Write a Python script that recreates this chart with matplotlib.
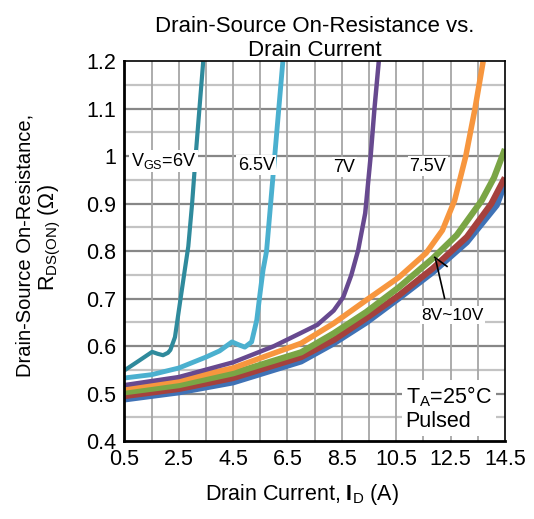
import matplotlib
matplotlib.use("Agg")
import matplotlib.pyplot as plt
import numpy as np

plt.rcParams['font.family'] = ['Liberation Sans', 'DejaVu Sans']
plt.rcParams['mathtext.fontset'] = 'custom'
plt.rcParams['mathtext.rm'] = 'Liberation Sans'
plt.rcParams['mathtext.bf'] = 'Liberation Sans:bold'

# Curves (drain current A, on-resistance ohm)
id_6v = [0.5, 1.0, 1.52, 1.72, 1.92, 2.1, 2.19, 2.36, 2.54, 2.72, 2.85, 2.99, 3.12, 3.26, 3.4]
r_6v = [0.549, 0.568, 0.588, 0.584, 0.581, 0.586, 0.592, 0.619, 0.69, 0.76, 0.81, 0.9, 1.0, 1.1, 1.2]

id_65v = [0.5, 1.5, 2.5, 3.5, 4.0, 4.46, 4.7, 4.93, 5.18, 5.37, 5.49, 5.6, 5.73, 5.88, 6.03, 6.18, 6.33]
r_65v = [0.533, 0.54, 0.554, 0.577, 0.59, 0.609, 0.603, 0.598, 0.609, 0.655, 0.711, 0.76, 0.8, 0.9, 1.0, 1.1, 1.2]

id_7v = [0.5, 2.5, 4.5, 6.0, 7.0, 7.6, 7.88, 8.2, 8.55, 8.85, 9.1, 9.36, 9.56, 9.7, 9.86]
r_7v = [0.518, 0.535, 0.566, 0.6, 0.628, 0.645, 0.659, 0.675, 0.703, 0.75, 0.802, 0.88, 1.0, 1.1, 1.2]

id_75v = [0.5, 2.5, 4.5, 7.0, 8.2, 9.4, 10.6, 11.6, 12.2, 12.65, 13.06, 13.4, 13.7]
r_75v = [0.512, 0.528, 0.554, 0.606, 0.648, 0.697, 0.745, 0.796, 0.844, 0.907, 1.0, 1.1, 1.2]

id_8v = [0.5, 2.5, 4.5, 7.0, 8.2, 9.4, 10.6, 11.85, 12.73, 13.65, 14.1, 14.5]
r_8v = [0.503, 0.518, 0.543, 0.587, 0.627, 0.672, 0.724, 0.785, 0.834, 0.907, 0.955, 1.015]

id_9v = [0.5, 2.5, 4.5, 7.0, 8.2, 9.4, 10.6, 11.85, 13.1, 14.0, 14.5]
r_9v = [0.495, 0.51, 0.533, 0.577, 0.613, 0.659, 0.707, 0.764, 0.83, 0.9, 0.955]

id_10v = [0.5, 2.5, 4.5, 7.0, 8.2, 9.4, 10.6, 11.85, 13.1, 14.2, 14.5]
r_10v = [0.488, 0.503, 0.524, 0.568, 0.606, 0.65, 0.701, 0.756, 0.819, 0.897, 0.943]

fig = plt.figure(figsize=(5.34, 5.19), dpi=100)
ax = fig.add_axes([0.233, 0.150, 0.7125, 0.732])

# grid: minor every 0.05 ohm, major every 0.1 ohm, verticals every 1 A
for y in np.arange(0.45, 1.2, 0.1):
    ax.axhline(y, color='#c3c3c3', lw=1.6, zorder=0)
for y in np.arange(0.5, 1.2, 0.1):
    ax.axhline(y, color='#878787', lw=1.6, zorder=0)
for x in np.arange(1.5, 14.5, 1.0):
    ax.axvline(x, color='#a6a6a6', lw=1.3, zorder=0)

ax.plot(id_10v, r_10v, color='#3f72b6', lw=4.5, solid_capstyle='butt')
ax.plot(id_9v, r_9v, color='#a5413d', lw=4.5, solid_capstyle='butt')
ax.plot(id_8v, r_8v, color='#7aa545', lw=4.5, solid_capstyle='butt')
ax.plot(id_75v, r_75v, color='#f7963e', lw=4.0, solid_capstyle='butt')
ax.plot(id_7v, r_7v, color='#67498f', lw=3.2, solid_capstyle='butt')
ax.plot(id_65v, r_65v, color='#4bb0cf', lw=3.5, solid_capstyle='butt')
ax.plot(id_6v, r_6v, color='#2f8a9c', lw=3.0, solid_capstyle='butt')

ax.set_xlim(0.5, 14.5)
ax.set_ylim(0.4, 1.2)
ax.set_xticks(np.arange(0.5, 14.6, 2))
ax.set_xticklabels(['0.5', '2.5', '4.5', '6.5', '8.5', '10.5', '12.5', '14.5'])
ax.set_yticks(np.arange(0.4, 1.21, 0.1))
ax.set_yticklabels(['0.4', '0.5', '0.6', '0.7', '0.8', '0.9', '1', '1.1', '1.2'])
ax.tick_params(length=0, labelsize=15.5, pad=6)

for s in ['left', 'bottom']:
    ax.spines[s].set_linewidth(2)
for s in ['top', 'right']:
    ax.spines[s].set_linewidth(1.2)

box = dict(facecolor='white', edgecolor='none', pad=1)
ax.text(0.74, 0.99, r'V$_{\mathrm{GS}}$=6V', fontsize=13, ha='left', va='center', bbox=box)
ax.text(5.35, 0.981, '6.5V', fontsize=13, ha='center', va='center', bbox=box)
ax.text(8.6, 0.977, '7V', fontsize=13, ha='center', va='center', bbox=box)
ax.text(11.66, 0.979, '7.5V', fontsize=13, ha='center', va='center', bbox=box)
ax.plot([12.28, 11.95], [0.701, 0.783], color='black', lw=1.2)
ax.plot([11.92, 12.37], [0.787, 0.768], color='black', lw=1.2)
ax.text(12.58, 0.665, '8V~10V', fontsize=12.5, ha='center', va='center', bbox=box)
ax.text(10.85, 0.469, 'T$_{\\mathrm{A}}$=25°C\nPulsed', fontsize=15.5, ha='left', va='center',
        linespacing=1.1, bbox=dict(facecolor='white', edgecolor='none', pad=3))

ax.set_title('Drain-Source On-Resistance vs.\nDrain Current', fontsize=16, pad=1,
             linespacing=1.2)
fig.text(0.5655, 0.048, r'Drain Current, $\mathbf{I}_{\mathrm{D}}$ (A)', fontsize=15.5,
         ha='center', va='center')
fig.text(0.047, 0.528, 'Drain-Source On-Resistance,', fontsize=14.5, rotation=90,
         ha='center', va='center')
fig.text(0.094, 0.543, 'R$_{\\mathrm{DS(ON)}}$ ($\\Omega$)', fontsize=15.5, rotation=90,
         ha='center', va='center')

fig.savefig('out.png', dpi=100)
